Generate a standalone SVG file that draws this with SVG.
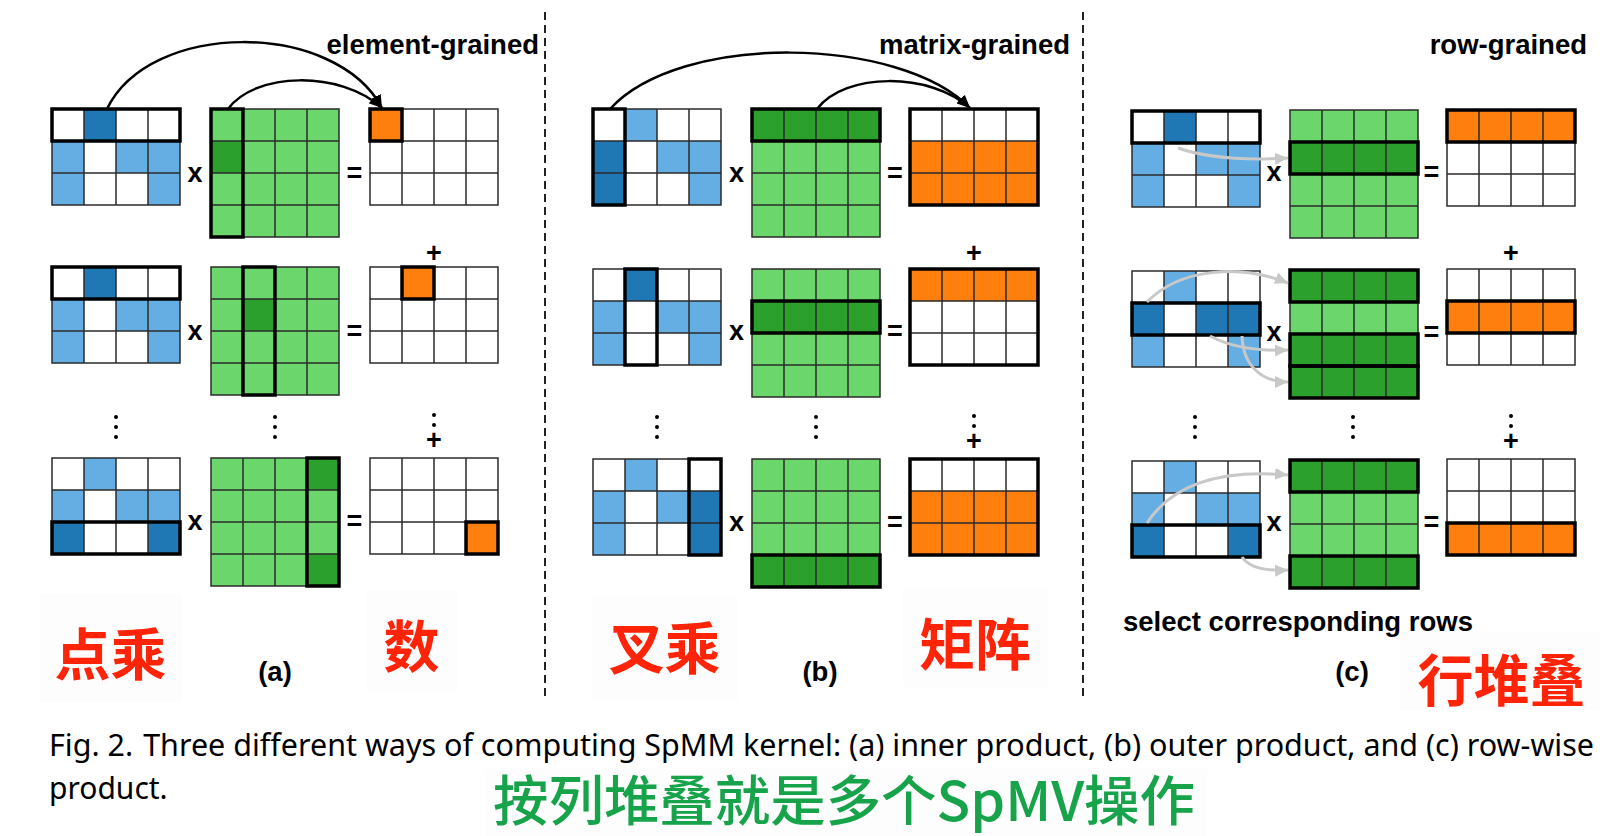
<svg xmlns="http://www.w3.org/2000/svg" xmlns:xlink="http://www.w3.org/1999/xlink" width="1618" height="836" viewBox="0 0 1618 836">
<style>
.wh{fill:#fff}.lb{fill:#64aee3}.db{fill:#1f77b4}.lg{fill:#6bd66b}.dg{fill:#2ca02c}.or{fill:#ff7f0e}
.grid{fill:none;stroke:#2b2b2b;stroke-width:1.5}
.hl{fill:none;stroke:#000;stroke-width:3.5}
.t{font-family:"Liberation Sans",Arial,sans-serif;font-weight:bold;font-size:27.5px;fill:#000}
.end{text-anchor:end}
.mid{text-anchor:middle}
.op{font-family:"Liberation Sans",Arial,sans-serif;font-weight:bold;font-size:27px;fill:#000;text-anchor:middle}
.red{font-family:"Noto Sans CJK SC","Noto Sans CJK JP",sans-serif;font-weight:bold;font-size:56px;fill:#ff2408;text-anchor:middle}
.grn{font-family:"Noto Sans CJK SC","Noto Sans CJK JP",sans-serif;font-weight:500;font-size:54px;fill:#17a34a;text-anchor:middle}
.cap{font-family:"Noto Sans","Liberation Sans",sans-serif;font-size:30px;fill:#000}
.bg{fill:#fdfdfd}
.arr{fill:none;stroke:#000;stroke-width:2.5;marker-end:url(#ah)}
.garr{fill:none;stroke:#c8c8c8;stroke-width:3;marker-end:url(#gah)}
.dash{stroke:#222;stroke-width:2;stroke-dasharray:8 5}
.dot{fill:#000}
</style>
<defs>
<marker id="ah" markerWidth="14" markerHeight="12" refX="13" refY="5.5" orient="auto" markerUnits="userSpaceOnUse"><path d="M0,0 L13,5.5 L0,11 Z" fill="#000"/></marker>
<marker id="gah" markerWidth="14" markerHeight="14" refX="13" refY="6" orient="auto" markerUnits="userSpaceOnUse"><path d="M0,0 L13,6 L0,12 Z" fill="#c8c8c8"/></marker>
<path id="g34" class="grid" d="M0,0H128V96H0Z M32,0V96 M64,0V96 M96,0V96 M0,32H128 M0,64H128"/>
<path id="g44" class="grid" d="M0,0H128V128H0Z M32,0V128 M64,0V128 M96,0V128 M0,32H128 M0,64H128 M0,96H128"/>
</defs>
<rect width="1618" height="836" fill="#fff"/>

<!-- faint label backgrounds -->
<g id="label-backgrounds">
<rect class="bg" x="40" y="594" width="142" height="108"/>
<rect class="bg" x="367" y="590" width="90" height="102"/>
<rect class="bg" x="592" y="597" width="146" height="104"/>
<rect class="bg" x="903" y="588" width="145" height="99"/>
<rect class="bg" x="1400" y="633" width="200" height="77"/>
<rect class="bg" x="485" y="769" width="722" height="67"/>
</g>

<!-- dividers -->
<g id="dividers">
<line class="dash" x1="545" y1="12" x2="545" y2="698"/>
<line class="dash" x1="1083" y1="12" x2="1083" y2="698"/>
</g>

<!-- ===== Panel (a) ===== -->
<g id="a1-A" transform="translate(52,109)">
<rect class="wh" width="128" height="96"/>
<rect class="db" x="32" y="0" width="32" height="32"/>
<rect class="lb" x="0" y="32" width="32" height="32"/><rect class="lb" x="64" y="32" width="64" height="32"/>
<rect class="lb" x="0" y="64" width="32" height="32"/><rect class="lb" x="96" y="64" width="32" height="32"/>
<use xlink:href="#g34"/><rect class="hl" x="0" y="0" width="128" height="32"/>
</g>
<g id="a1-B" transform="translate(211,109)">
<rect class="lg" width="128" height="128"/><rect class="dg" x="0" y="32" width="32" height="32"/>
<use xlink:href="#g44"/><rect class="hl" x="0" y="0" width="32" height="128"/>
</g>
<g id="a1-C" transform="translate(370,109)">
<rect class="wh" width="128" height="96"/><rect class="or" x="0" y="0" width="32" height="32"/>
<use xlink:href="#g34"/><rect class="hl" x="0" y="0" width="32" height="32"/>
</g>

<g id="a2-A" transform="translate(52,267)">
<rect class="wh" width="128" height="96"/>
<rect class="db" x="32" y="0" width="32" height="32"/>
<rect class="lb" x="0" y="32" width="32" height="32"/><rect class="lb" x="64" y="32" width="64" height="32"/>
<rect class="lb" x="0" y="64" width="32" height="32"/><rect class="lb" x="96" y="64" width="32" height="32"/>
<use xlink:href="#g34"/><rect class="hl" x="0" y="0" width="128" height="32"/>
</g>
<g id="a2-B" transform="translate(211,267)">
<rect class="lg" width="128" height="128"/><rect class="dg" x="32" y="32" width="32" height="32"/>
<use xlink:href="#g44"/><rect class="hl" x="32" y="0" width="32" height="128"/>
</g>
<g id="a2-C" transform="translate(370,267)">
<rect class="wh" width="128" height="96"/><rect class="or" x="32" y="0" width="32" height="32"/>
<use xlink:href="#g34"/><rect class="hl" x="32" y="0" width="32" height="32"/>
</g>

<g id="a3-A" transform="translate(52,458)">
<rect class="wh" width="128" height="96"/>
<rect class="lb" x="32" y="0" width="32" height="32"/>
<rect class="lb" x="0" y="32" width="32" height="32"/><rect class="lb" x="64" y="32" width="64" height="32"/>
<rect class="db" x="0" y="64" width="32" height="32"/><rect class="db" x="96" y="64" width="32" height="32"/>
<use xlink:href="#g34"/><rect class="hl" x="0" y="64" width="128" height="32"/>
</g>
<g id="a3-B" transform="translate(211,458)">
<rect class="lg" width="128" height="128"/><rect class="dg" x="96" y="0" width="32" height="32"/><rect class="dg" x="96" y="96" width="32" height="32"/>
<use xlink:href="#g44"/><rect class="hl" x="96" y="0" width="32" height="128"/>
</g>
<g id="a3-C" transform="translate(370,458)">
<rect class="wh" width="128" height="96"/><rect class="or" x="96" y="64" width="32" height="32"/>
<use xlink:href="#g34"/><rect class="hl" x="96" y="64" width="32" height="32"/>
</g>

<!-- ===== Panel (b) ===== -->
<g id="b1-A" transform="translate(593,109)">
<rect class="wh" width="128" height="96"/>
<rect class="lb" x="32" y="0" width="32" height="32"/>
<rect class="db" x="0" y="32" width="32" height="64"/>
<rect class="lb" x="64" y="32" width="64" height="32"/><rect class="lb" x="96" y="64" width="32" height="32"/>
<use xlink:href="#g34"/><rect class="hl" x="0" y="0" width="32" height="96"/>
</g>
<g id="b1-B" transform="translate(752,109)">
<rect class="lg" width="128" height="128"/><rect class="dg" x="0" y="0" width="128" height="32"/>
<use xlink:href="#g44"/><rect class="hl" x="0" y="0" width="128" height="32"/>
</g>
<g id="b1-C" transform="translate(910,109)">
<rect class="wh" width="128" height="96"/><rect class="or" x="0" y="32" width="128" height="64"/>
<use xlink:href="#g34"/><rect class="hl" x="0" y="0" width="128" height="96"/>
</g>

<g id="b2-A" transform="translate(593,269)">
<rect class="wh" width="128" height="96"/>
<rect class="db" x="32" y="0" width="32" height="32"/>
<rect class="lb" x="0" y="32" width="32" height="32"/><rect class="lb" x="64" y="32" width="64" height="32"/>
<rect class="lb" x="0" y="64" width="32" height="32"/><rect class="lb" x="96" y="64" width="32" height="32"/>
<use xlink:href="#g34"/><rect class="hl" x="32" y="0" width="32" height="96"/>
</g>
<g id="b2-B" transform="translate(752,269)">
<rect class="lg" width="128" height="128"/><rect class="dg" x="0" y="32" width="128" height="32"/>
<use xlink:href="#g44"/><rect class="hl" x="0" y="32" width="128" height="32"/>
</g>
<g id="b2-C" transform="translate(910,269)">
<rect class="wh" width="128" height="96"/><rect class="or" x="0" y="0" width="128" height="32"/>
<use xlink:href="#g34"/><rect class="hl" x="0" y="0" width="128" height="96"/>
</g>

<g id="b3-A" transform="translate(593,459)">
<rect class="wh" width="128" height="96"/>
<rect class="lb" x="32" y="0" width="32" height="32"/>
<rect class="lb" x="0" y="32" width="32" height="32"/><rect class="lb" x="64" y="32" width="32" height="32"/>
<rect class="db" x="96" y="32" width="32" height="64"/>
<rect class="lb" x="0" y="64" width="32" height="32"/>
<use xlink:href="#g34"/><rect class="hl" x="96" y="0" width="32" height="96"/>
</g>
<g id="b3-B" transform="translate(752,459)">
<rect class="lg" width="128" height="128"/><rect class="dg" x="0" y="96" width="128" height="32"/>
<use xlink:href="#g44"/><rect class="hl" x="0" y="96" width="128" height="32"/>
</g>
<g id="b3-C" transform="translate(910,459)">
<rect class="wh" width="128" height="96"/><rect class="or" x="0" y="32" width="128" height="64"/>
<use xlink:href="#g34"/><rect class="hl" x="0" y="0" width="128" height="96"/>
</g>

<!-- ===== Panel (c) ===== -->
<g id="c1-A" transform="translate(1132,111)">
<rect class="wh" width="128" height="96"/>
<rect class="db" x="32" y="0" width="32" height="32"/>
<rect class="lb" x="0" y="32" width="32" height="32"/><rect class="lb" x="64" y="32" width="64" height="32"/>
<rect class="lb" x="0" y="64" width="32" height="32"/><rect class="lb" x="96" y="64" width="32" height="32"/>
<use xlink:href="#g34"/><rect class="hl" x="0" y="0" width="128" height="32"/>
</g>
<g id="c1-B" transform="translate(1290,110)">
<rect class="lg" width="128" height="128"/><rect class="dg" x="0" y="32" width="128" height="32"/>
<use xlink:href="#g44"/><rect class="hl" x="0" y="32" width="128" height="32"/>
</g>
<g id="c1-C" transform="translate(1447,110)">
<rect class="wh" width="128" height="96"/><rect class="or" x="0" y="0" width="128" height="32"/>
<use xlink:href="#g34"/><rect class="hl" x="0" y="0" width="128" height="32"/>
</g>

<g id="c2-A" transform="translate(1132,271)">
<rect class="wh" width="128" height="96"/>
<rect class="lb" x="32" y="0" width="32" height="32"/>
<rect class="db" x="0" y="32" width="32" height="32"/><rect class="db" x="64" y="32" width="64" height="32"/>
<rect class="lb" x="0" y="64" width="32" height="32"/><rect class="lb" x="96" y="64" width="32" height="32"/>
<use xlink:href="#g34"/><rect class="hl" x="0" y="32" width="128" height="32"/>
</g>
<g id="c2-B" transform="translate(1290,270)">
<rect class="lg" width="128" height="128"/><rect class="dg" x="0" y="0" width="128" height="32"/><rect class="dg" x="0" y="64" width="128" height="64"/>
<use xlink:href="#g44"/>
<rect class="hl" x="0" y="0" width="128" height="32"/><rect class="hl" x="0" y="64" width="128" height="32"/><rect class="hl" x="0" y="96" width="128" height="32"/>
</g>
<g id="c2-C" transform="translate(1447,269)">
<rect class="wh" width="128" height="96"/><rect class="or" x="0" y="32" width="128" height="32"/>
<use xlink:href="#g34"/><rect class="hl" x="0" y="32" width="128" height="32"/>
</g>

<g id="c3-A" transform="translate(1132,461)">
<rect class="wh" width="128" height="96"/>
<rect class="lb" x="32" y="0" width="32" height="32"/>
<rect class="lb" x="0" y="32" width="32" height="32"/><rect class="lb" x="64" y="32" width="64" height="32"/>
<rect class="db" x="0" y="64" width="32" height="32"/><rect class="db" x="96" y="64" width="32" height="32"/>
<use xlink:href="#g34"/><rect class="hl" x="0" y="64" width="128" height="32"/>
</g>
<g id="c3-B" transform="translate(1290,460)">
<rect class="lg" width="128" height="128"/><rect class="dg" x="0" y="0" width="128" height="32"/><rect class="dg" x="0" y="96" width="128" height="32"/>
<use xlink:href="#g44"/>
<rect class="hl" x="0" y="0" width="128" height="32"/><rect class="hl" x="0" y="96" width="128" height="32"/>
</g>
<g id="c3-C" transform="translate(1447,459)">
<rect class="wh" width="128" height="96"/><rect class="or" x="0" y="64" width="128" height="32"/>
<use xlink:href="#g34"/><rect class="hl" x="0" y="64" width="128" height="32"/>
</g>

<!-- connectors -->
<g id="connectors">
<path class="arr" d="M107,109 C150,20 335,20 382,108"/>
<path class="arr" d="M228,109 C255,72 340,70 382,108"/>
<path class="arr" d="M610,109 C680,32 900,36 970,108"/>
<path class="arr" d="M817,109 C845,72 930,72 970,108"/>
<path class="garr" d="M1178,148 Q1218,162 1288,158"/>
<path class="garr" d="M1147,302 C1180,268 1240,264 1288,283"/>
<path class="garr" d="M1210,336 Q1240,352 1288,350"/>
<path class="garr" d="M1242,336 C1243,366 1262,382 1288,382"/>
<path class="garr" d="M1147,523 C1175,480 1230,470 1288,475"/>
<path class="garr" d="M1242,557 Q1252,572 1288,570"/>
</g>

<!-- operators -->
<g id="operators">
<text class="op" x="195" y="182">x</text><text class="op" x="354.5" y="182">=</text>
<text class="op" x="195" y="340">x</text><text class="op" x="354.5" y="340">=</text>
<text class="op" x="195" y="530">x</text><text class="op" x="354.5" y="530">=</text>
<text class="op" x="736.5" y="182">x</text><text class="op" x="895" y="182">=</text>
<text class="op" x="736.5" y="340">x</text><text class="op" x="895" y="340">=</text>
<text class="op" x="736.5" y="531">x</text><text class="op" x="895" y="531">=</text>
<text class="op" x="1274" y="181">x</text><text class="op" x="1431.5" y="181">=</text>
<text class="op" x="1274" y="341">x</text><text class="op" x="1431.5" y="341">=</text>
<text class="op" x="1274" y="531">x</text><text class="op" x="1431.5" y="531">=</text>
<text class="op" x="434" y="261.5">+</text>
<text class="op" x="974" y="261.5">+</text>
<text class="op" x="1511" y="261.5">+</text>
<text class="op" x="434" y="449">+</text>
<text class="op" x="974" y="450">+</text>
<text class="op" x="1511" y="450">+</text>
</g>

<!-- ellipsis dots -->
<g id="ellipses" class="dot">
<circle cx="116" cy="417" r="2"/><circle cx="116" cy="427" r="2"/><circle cx="116" cy="437" r="2"/>
<circle cx="275" cy="417" r="2"/><circle cx="275" cy="427" r="2"/><circle cx="275" cy="437" r="2"/>
<circle cx="434" cy="415" r="2"/><circle cx="434" cy="425" r="2"/>
<circle cx="657" cy="417" r="2"/><circle cx="657" cy="427" r="2"/><circle cx="657" cy="437" r="2"/>
<circle cx="816" cy="417" r="2"/><circle cx="816" cy="427" r="2"/><circle cx="816" cy="437" r="2"/>
<circle cx="974" cy="416" r="2"/><circle cx="974" cy="426" r="2"/>
<circle cx="1195" cy="417" r="2"/><circle cx="1195" cy="427" r="2"/><circle cx="1195" cy="437" r="2"/>
<circle cx="1353" cy="417" r="2"/><circle cx="1353" cy="427" r="2"/><circle cx="1353" cy="437" r="2"/>
<circle cx="1511" cy="416" r="2"/><circle cx="1511" cy="426" r="2"/>
</g>

<!-- labels -->
<g id="labels">
<text class="t end" x="539" y="54">element-grained</text>
<text class="t end" x="1070" y="54">matrix-grained</text>
<text class="t end" x="1587" y="54">row-grained</text>
<text class="t" x="1123" y="631">select corresponding rows</text>
<text class="t mid" x="275" y="681">(a)</text>
<text class="t mid" x="820" y="681">(b)</text>
<text class="t mid" x="1352" y="681">(c)</text>
</g>

<g id="red-notes">
<text class="red" x="110.5" y="675">点乘</text>
<text class="red" x="411.5" y="667">数</text>
<text class="red" x="664.5" y="669">叉乘</text>
<text class="red" x="975" y="665">矩阵</text>
<text class="red" x="1501.5" y="701">行堆叠</text>
</g>

<g id="caption">
<text class="cap" x="49" y="756" textLength="1545" lengthAdjust="spacingAndGlyphs">Fig. 2.<tspan dx="12">Three different ways of computing SpMM kernel: (a) inner product, (b) outer product, and (c) row-wise</tspan></text>
<text class="cap" x="49" y="799">product.</text>
</g>

<g id="green-note">
<text class="grn" x="844" y="821" textLength="702" lengthAdjust="spacingAndGlyphs">按列堆叠就是多个SpMV操作</text>
</g>
</svg>
